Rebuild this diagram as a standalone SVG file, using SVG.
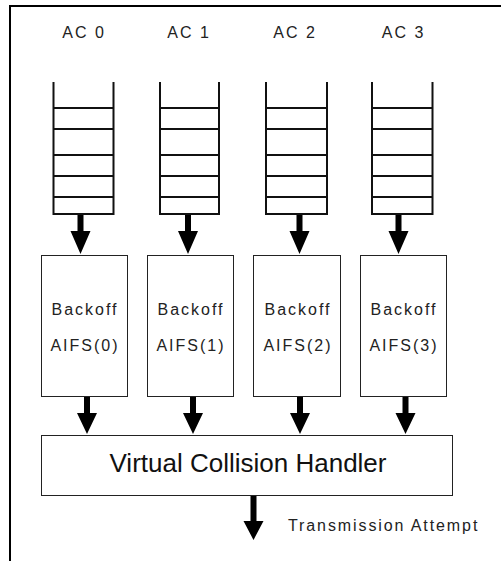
<svg xmlns="http://www.w3.org/2000/svg" width="501" height="561" viewBox="0 0 501 561">
<style>
.frame{fill:none;stroke:#000;stroke-width:2}
.q{fill:none;stroke:#111;stroke-width:2}
.box{fill:#fff;stroke:#222;stroke-width:1}
.t{font-family:"Liberation Sans",Arial,sans-serif;font-size:16px;fill:#222;letter-spacing:2px;text-anchor:middle}
.big{font-family:"Liberation Sans",Arial,sans-serif;font-size:26px;fill:#111;text-anchor:middle}
.arr{fill:#000}
</style>
<rect width="501" height="561" fill="#fff"/>
<path class="frame" d="M10,561 V6 H501"/>
<g id="ac0">
<text class="t" x="84" y="38">AC 0</text>
<path class="q" d="M53.5,82 V214 M113.5,82 V214 M53.5,108 H113.5 M53.5,129 H113.5 M53.5,155 H113.5 M53.5,176 H113.5 M53.5,197 H113.5 M52.5,214 H114.5"/>
</g>
<g id="ac1">
<text class="t" x="189" y="38">AC 1</text>
<path class="q" d="M160,82 V214 M219,82 V214 M160,108 H219 M160,129 H219 M160,155 H219 M160,176 H219 M160,197 H219 M159,214 H220"/>
</g>
<g id="ac2">
<text class="t" x="295" y="38">AC 2</text>
<path class="q" d="M266,82 V214 M327,82 V214 M266,108 H327 M266,129 H327 M266,155 H327 M266,176 H327 M266,197 H327 M265,214 H328"/>
</g>
<g id="ac3">
<text class="t" x="403.5" y="38">AC 3</text>
<path class="q" d="M372,82 V214 M432.5,82 V214 M372,108 H432.5 M372,129 H432.5 M372,155 H432.5 M372,176 H432.5 M372,197 H432.5 M371,214 H433.5"/>
</g>
<g id="backoff0">
<rect class="box" x="41.5" y="255.5" width="86" height="141"/>
<text class="t" x="85" y="315">Backoff</text>
<text class="t" x="85" y="351">AIFS(0)</text>
</g>
<g id="backoff1">
<rect class="box" x="147.5" y="255.5" width="86" height="141"/>
<text class="t" x="191" y="315">Backoff</text>
<text class="t" x="191" y="351">AIFS(1)</text>
</g>
<g id="backoff2">
<rect class="box" x="253.5" y="255.5" width="87" height="141"/>
<text class="t" x="298" y="315">Backoff</text>
<text class="t" x="298" y="351">AIFS(2)</text>
</g>
<g id="backoff3">
<rect class="box" x="360.5" y="255.5" width="86" height="141"/>
<text class="t" x="404" y="315">Backoff</text>
<text class="t" x="404" y="351">AIFS(3)</text>
</g>
<g id="vch">
<rect class="box" x="41.5" y="435.5" width="411" height="60"/>
<text class="big" x="248" y="472">Virtual Collision Handler</text>
</g>
<g id="connectors">
<polygon class="arr" points="77.5,215 83.5,215 83.5,231 90.5,231 80.5,254 70.5,231 77.5,231"/>
<polygon class="arr" points="185,215 191,215 191,231 198,231 188,254 178,231 185,231"/>
<polygon class="arr" points="296.5,215 302.5,215 302.5,231 309.5,231 299.5,254 289.5,231 296.5,231"/>
<polygon class="arr" points="395.5,215 401.5,215 401.5,231 408.5,231 398.5,254 388.5,231 395.5,231"/>
<polygon class="arr" points="84,397 90,397 90,413 97,413 87,434 77,413 84,413"/>
<polygon class="arr" points="190,397 196,397 196,413 203,413 193,434 183,413 190,413"/>
<polygon class="arr" points="297,397 303,397 303,413 310,413 300,434 290,413 297,413"/>
<polygon class="arr" points="402.5,397 408.5,397 408.5,413 415.5,413 405.5,434 395.5,413 402.5,413"/>
<polygon class="arr" points="250.5,496 256.5,496 256.5,521 263.5,521 253.5,540 243.5,521 250.5,521"/>
</g>
<text class="t" x="288" y="531" style="text-anchor:start;letter-spacing:1.9px">Transmission Attempt</text>
</svg>
